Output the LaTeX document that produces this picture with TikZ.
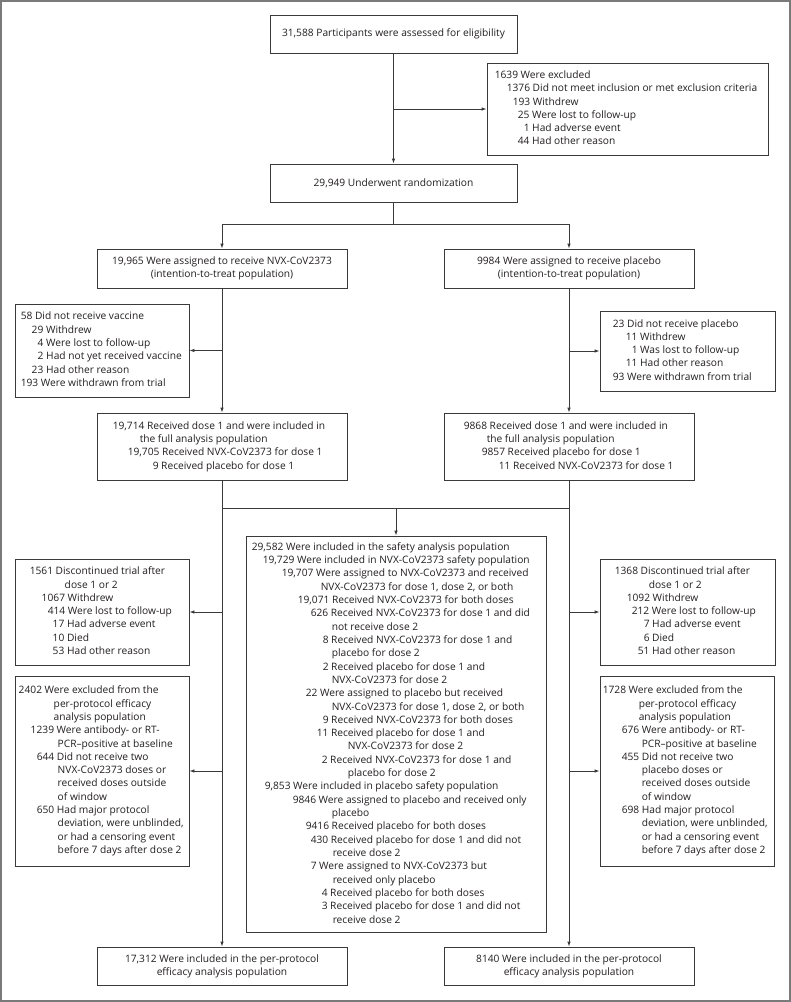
\documentclass[tikz,border=0pt]{standalone}
\usepackage{fontspec}
\setmainfont{Open Sans}
\usetikzlibrary{arrows.meta}
\definecolor{ln}{HTML}{3A3A3A}
\definecolor{tx}{HTML}{231F20}
\definecolor{fr}{HTML}{7A7A7A}
\newcommand\fs{\fontsize{10.2}{13.32}\selectfont}
\newcommand\bl[2]{\hbox{\kern#1pt\strut #2}}
\tikzset{
  box/.style={draw=ln, line width=0.9pt, inner sep=0pt, fill=white},
  txt/.style={inner sep=0pt, align=left, anchor=west, text=tx, font=\fs},
  ctr/.style={box, align=center, text=tx, font=\fs},
  con/.style={draw=ln, line width=0.9pt},
  arr/.style={con, -{Latex[length=5pt,width=3.6pt]}}
}
\begin{document}
\begin{tikzpicture}[x=1pt,y=-1pt]
\useasboundingbox (0,0) rectangle (791,1002);
\draw[fr, line width=2pt] (1,1) rectangle (790,1001);

% centered boxes
\node[ctr, minimum width=247pt, minimum height=38pt] (top) at (393.5,34) {31,588 Participants were assessed for eligibility};
\node[ctr, minimum width=247pt, minimum height=38pt] (rand) at (393.5,183) {29,949 Underwent randomization};
\node[ctr, minimum width=250pt, minimum height=39pt] (ittL) at (222,268.5) {19,965 Were assigned to receive NVX-CoV2373\\(intention-to-treat population)};
\node[ctr, minimum width=250pt, minimum height=39pt] (ittR) at (569,268.5) {9984 Were assigned to receive placebo\\(intention-to-treat population)};
\node[ctr, minimum width=250pt, minimum height=38pt] (botL) at (222,966) {17,312 Were included in the per-protocol\\efficacy analysis population};
\node[ctr, minimum width=250pt, minimum height=38pt] (botR) at (569,966) {8140 Were included in the per-protocol\\efficacy analysis population};

% left-aligned boxes
\node[box, minimum width=281pt, minimum height=92pt] (excl) at (627.5,109) {};
\node[txt] (exclT) at (excl.west) {\bl{8}{1639 Were excluded}\\
\bl{20}{1376 Did not meet inclusion or met exclusion criteria}\\
\bl{26}{193 Withdrew}\\
\bl{31}{25 Were lost to follow-up}\\
\bl{37}{1 Had adverse event}\\
\bl{31}{44 Had other reason}};

\node[box, minimum width=174pt, minimum height=93pt] (exL) at (102,350.5) {};
\node[txt] (exLT) at (exL.west) {\bl{6}{58 Did not receive vaccine}\\
\bl{17}{29 Withdrew}\\
\bl{23}{4 Were lost to follow-up}\\
\bl{23}{2 Had not yet received vaccine}\\
\bl{17}{23 Had other reason}\\
\bl{6}{193 Were withdrawn from trial}};

\node[box, minimum width=175pt, minimum height=80pt] (exR) at (687.5,351) {};
\node[txt] (exRT) at (exR.west) {\bl{13}{23 Did not receive placebo}\\
\bl{26}{11 Withdrew}\\
\bl{32}{1 Was lost to follow-up}\\
\bl{26}{11 Had other reason}\\
\bl{13}{93 Were withdrawn from trial}};

\node[box, minimum width=250pt, minimum height=67pt] (faL) at (222,446.5) {};
\node[txt] (faLT) at (faL.west) {\bl{16}{19,714 Received dose 1 and were included in}\\
\bl{43}{the full analysis population}\\
\bl{31}{19,705 Received NVX-CoV2373 for dose 1}\\
\bl{56}{9 Received placebo for dose 1}};

\node[box, minimum width=250pt, minimum height=67pt] (faR) at (569,446.5) {};
\node[txt] (faRT) at (faR.west) {\bl{20}{9868 Received dose 1 and were included in}\\
\bl{43}{the full analysis population}\\
\bl{38}{9857 Received placebo for dose 1}\\
\bl{55}{11 Received NVX-CoV2373 for dose 1}};

\node[box, minimum width=300pt, minimum height=396pt] (safe) at (396,734) {};
\node[txt] (safeT) at (safe.west) {\bl{6}{29,582 Were included in the safety analysis population}\\
\bl{17}{19,729 Were included in NVX-CoV2373 safety population}\\
\bl{36}{19,707 Were assigned to NVX-CoV2373 and received}\\
\bl{75}{NVX-CoV2373 for dose 1, dose 2, or both}\\
\bl{52}{19,071 Received NVX-CoV2373 for both doses}\\
\bl{65}{626 Received NVX-CoV2373 for dose 1 and did}\\
\bl{86}{not receive dose 2}\\
\bl{77}{8 Received NVX-CoV2373 for dose 1 and}\\
\bl{86}{placebo for dose 2}\\
\bl{77}{2 Received placebo for dose 1 and}\\
\bl{86}{NVX-CoV2373 for dose 2}\\
\bl{60}{22 Were assigned to placebo but received}\\
\bl{86}{NVX-CoV2373 for dose 1, dose 2, or both}\\
\bl{77}{9 Received NVX-CoV2373 for both doses}\\
\bl{71}{11 Received placebo for dose 1 and}\\
\bl{102}{NVX-CoV2373 for dose 2}\\
\bl{76}{2 Received NVX-CoV2373 for dose 1 and}\\
\bl{102}{placebo for dose 2}\\
\bl{19}{9,853 Were included in placebo safety population}\\
\bl{47}{9846 Were assigned to placebo and received only}\\
\bl{86}{placebo}\\
\bl{60}{9416 Received placebo for both doses}\\
\bl{65}{430 Received placebo for dose 1 and did not}\\
\bl{87}{receive dose 2}\\
\bl{65}{7 Were assigned to NVX-CoV2373 but}\\
\bl{87}{received only placebo}\\
\bl{76}{4 Received placebo for both doses}\\
\bl{76}{3 Received placebo for dose 1 and did not}\\
\bl{87}{receive dose 2}};

\node[box, minimum width=174pt, minimum height=106pt] (dcL) at (102,612) {};
\node[txt] (dcLT) at (dcL.west) {\bl{15}{1561 Discontinued trial after}\\
\bl{50}{dose 1 or 2}\\
\bl{27}{1067 Withdrew}\\
\bl{33}{414 Were lost to follow-up}\\
\bl{38}{17 Had adverse event}\\
\bl{38}{10 Died}\\
\bl{38}{53 Had other reason}};

\node[box, minimum width=175pt, minimum height=106pt] (dcR) at (687.5,612) {};
\node[txt] (dcRT) at (dcR.west) {\bl{15}{1368 Discontinued trial after}\\
\bl{49}{dose 1 or 2}\\
\bl{27}{1092 Withdrew}\\
\bl{32}{212 Were lost to follow-up}\\
\bl{44}{7 Had adverse event}\\
\bl{44}{6 Died}\\
\bl{38}{51 Had other reason}};

\node[box, minimum width=174pt, minimum height=190pt] (ppL) at (102,771) {};
\node[txt] (ppLT) at (ppL.west) {\bl{4}{2402 Were excluded from the}\\
\bl{39}{per-protocol efficacy}\\
\bl{39}{analysis population}\\
\bl{16}{1239 Were antibody- or RT-}\\
\bl{43}{PCR–positive at baseline}\\
\bl{22}{644 Did not receive two}\\
\bl{43}{NVX-CoV2373 doses or}\\
\bl{43}{received doses outside}\\
\bl{43}{of window}\\
\bl{22}{650 Had major protocol}\\
\bl{43}{deviation, were unblinded,}\\
\bl{43}{or had a censoring event}\\
\bl{43}{before 7 days after dose 2}};

\node[box, minimum width=174pt, minimum height=190pt] (ppR) at (687,771) {};
\node[txt] (ppRT) at (ppR.west) {\bl{3}{1728 Were excluded from the}\\
\bl{39}{per-protocol efficacy}\\
\bl{39}{analysis population}\\
\bl{22}{676 Were antibody- or RT-}\\
\bl{42}{PCR–positive at baseline}\\
\bl{22}{455 Did not receive two}\\
\bl{42}{placebo doses or}\\
\bl{42}{received doses outside}\\
\bl{42}{of window}\\
\bl{22}{698 Had major protocol}\\
\bl{42}{deviation, were unblinded,}\\
\bl{42}{or had a censoring event}\\
\bl{42}{before 7 days after dose 2}};

% connectors
\draw[arr] (top.south) -- (rand.north);
\coordinate (j0) at (top.south |- excl.west);
\draw[arr] (j0) -- (excl.west);

\coordinate (j1) at (393.5,224);
\draw[con] (rand.south) -- (j1);
\draw[arr] (j1) -| (ittL.north);
\draw[arr] (j1) -| (ittR.north);

\draw[arr] (ittL.south) -- (faL.north);
\coordinate (jL1) at (ittL.south |- exL.east);
\draw[arr] (jL1) -- (exL.east);
\draw[arr] (ittR.south) -- (faR.north);
\coordinate (jR1) at (ittR.south |- exR.west);
\draw[arr] (jR1) -- (exR.west);

\draw[arr] (faL.south) -- (botL.north);
\draw[arr] (faR.south) -- (botR.north);
\coordinate (jL2) at (faL.south |- dcL.east);
\draw[arr] (jL2) -- (dcL.east);
\coordinate (jL3) at (faL.south |- ppL.east);
\draw[arr] (jL3) -- (ppL.east);
\coordinate (jR2) at (faR.south |- dcR.west);
\draw[arr] (jR2) -- (dcR.west);
\coordinate (jR3) at (faR.south |- ppR.west);
\draw[arr] (jR3) -- (ppR.west);

\coordinate (jS) at (396,508);
\draw[con] (faL.south |- jS) -- (faR.south |- jS);
\draw[arr] (jS) -- (safe.north);
\end{tikzpicture}
\end{document}
